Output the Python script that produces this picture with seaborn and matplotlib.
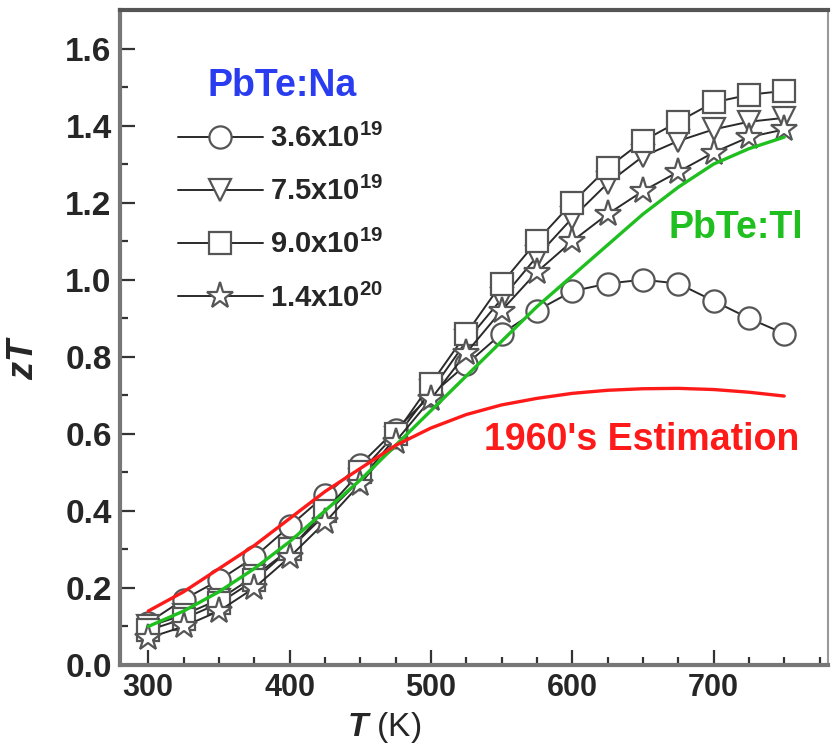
import numpy as np
import pandas as pd
import seaborn as sns
import matplotlib.pyplot as plt
from matplotlib.ticker import MultipleLocator, FormatStrFormatter

# 溫度點 (K)
temps = [300, 325, 350, 375, 400, 425, 450, 475, 500, 525, 550, 575, 600, 625, 650, 675, 700, 725, 750]

# PbTe:Na 各載流子濃度的 zT
zt_36e19 = [0.11, 0.17, 0.22, 0.28, 0.36, 0.44, 0.52, 0.61, 0.70, 0.78, 0.86, 0.92, 0.97, 0.99, 1.00, 0.99, 0.945, 0.90, 0.86]
zt_75e19 = [0.10, 0.13, 0.17, 0.23, 0.30, 0.39, 0.48, 0.59, 0.71, 0.84, 0.95, 1.06, 1.16, 1.25, 1.32, 1.36, 1.39, 1.41, 1.42]
zt_90e19 = [0.09, 0.12, 0.16, 0.22, 0.30, 0.40, 0.50, 0.60, 0.73, 0.86, 0.99, 1.10, 1.20, 1.29, 1.36, 1.41, 1.46, 1.48, 1.49]
zt_14e20 = [0.07, 0.10, 0.14, 0.20, 0.28, 0.37, 0.47, 0.58, 0.69, 0.81, 0.92, 1.02, 1.10, 1.17, 1.23, 1.28, 1.33, 1.37, 1.39]

# 參考曲線
zt_tl = [0.10, 0.14, 0.19, 0.25, 0.32, 0.40, 0.48, 0.57, 0.66, 0.75, 0.84, 0.93, 1.01, 1.09, 1.17, 1.24, 1.30, 1.34, 1.37]
zt_1960 = [0.14, 0.19, 0.25, 0.31, 0.38, 0.45, 0.51, 0.57, 0.615, 0.65, 0.675, 0.692, 0.705, 0.713, 0.717, 0.718, 0.715, 0.708, 0.698]

na_labels = [r'3.6x10$^{\mathbf{19}}$', r'7.5x10$^{\mathbf{19}}$', r'9.0x10$^{\mathbf{19}}$', r'1.4x10$^{\mathbf{20}}$']
na_series = [zt_36e19, zt_75e19, zt_90e19, zt_14e20]
na_markers = ['o', 'v', 's', '*']

sns.set_style('ticks')
plt.rcParams['font.family'] = ['Liberation Sans', 'DejaVu Sans']
plt.rcParams['font.weight'] = 'bold'
plt.rcParams['mathtext.fontset'] = 'custom'
plt.rcParams['mathtext.rm'] = 'Liberation Sans:bold'
plt.rcParams['mathtext.bf'] = 'Liberation Sans:bold'
plt.rcParams['mathtext.it'] = 'Liberation Sans:italic:bold'

fig = plt.figure(figsize=(8.35, 7.48), dpi=100)
ax = fig.add_axes([120 / 835, 1 - 665 / 748, 708 / 835, 655 / 748])

# 數據曲線
handles = []
for zt, mk, lab in zip(na_series, na_markers, na_labels):
    df = pd.DataFrame({'T': temps, 'zT': zt})
    sns.lineplot(data=df, x='T', y='zT', ax=ax, color='#2a2a2a', linewidth=1.4,
                 marker=mk, markersize=20 if mk == '*' else 16,
                 markerfacecolor='white', markeredgecolor='#555555',
                 markeredgewidth=1.6, zorder=3)
    handles.append(ax.get_lines()[-1])

sns.lineplot(x=temps, y=zt_tl, ax=ax, color='#1fbf1f', linewidth=2.4, zorder=4)
sns.lineplot(x=temps, y=zt_1960, ax=ax, color='#ff1a1a', linewidth=2.4, zorder=4)

ax.set_xlim(280, 781)
ax.set_ylim(0, 1.70)
ax.xaxis.set_major_locator(MultipleLocator(100))
ax.xaxis.set_minor_locator(MultipleLocator(25))
ax.yaxis.set_major_locator(MultipleLocator(0.2))
ax.yaxis.set_minor_locator(MultipleLocator(0.1))
ax.yaxis.set_major_formatter(FormatStrFormatter('%.1f'))
ax.set_xticks([300, 400, 500, 600, 700])

ax.tick_params(which='major', direction='in', length=11, width=1.6, color='#333333')
ax.tick_params(which='minor', direction='in', length=6, width=1.6, color='#333333')
ax.tick_params(axis='y', labelsize=24, pad=6)
ax.tick_params(axis='x', labelsize=22, pad=6)
for lbl in ax.get_xticklabels() + ax.get_yticklabels():
    lbl.set_fontweight('bold')

for side in ['left', 'bottom']:
    ax.spines[side].set_linewidth(3)
    ax.spines[side].set_color('#777777')
ax.spines['top'].set_linewidth(3)
ax.spines['top'].set_color('#555555')
ax.spines['right'].set_linewidth(1.5)
ax.spines['right'].set_color('#999999')

ax.set_xlabel(r'$T$ (K)', fontsize=24, fontweight='normal')
ax.xaxis.set_label_coords(0.373, -0.068)
ax.set_ylabel(r'$zT$', fontsize=26)
ax.yaxis.set_label_coords(-0.112, 0.47)

# 圖例
leg = ax.legend(handles=handles, labels=na_labels, loc='upper left',
                bbox_to_anchor=(178 / 835, 1 - 124 / 748), bbox_transform=fig.transFigure,
                frameon=False, fontsize=21, handlelength=2.9, handletextpad=0.25,
                labelspacing=0.82, borderpad=0, borderaxespad=0, numpoints=1)
for t in leg.get_texts():
    t.set_fontweight('bold')

# 標註文字
fig.text(282 / 835, 1 - 86 / 748, 'PbTe:Na', color='#2a3cf0', fontsize=27,
         fontweight='bold', ha='center', va='center')
fig.text(736 / 835, 1 - 228 / 748, 'PbTe:Tl', color='#1fbf1f', fontsize=27,
         fontweight='bold', ha='center', va='center')
fig.text(642 / 835, 1 - 440 / 748, "1960's Estimation", color='#ff1a1a', fontsize=27,
         fontweight='bold', ha='center', va='center')

fig.savefig('out.png', dpi=100)
